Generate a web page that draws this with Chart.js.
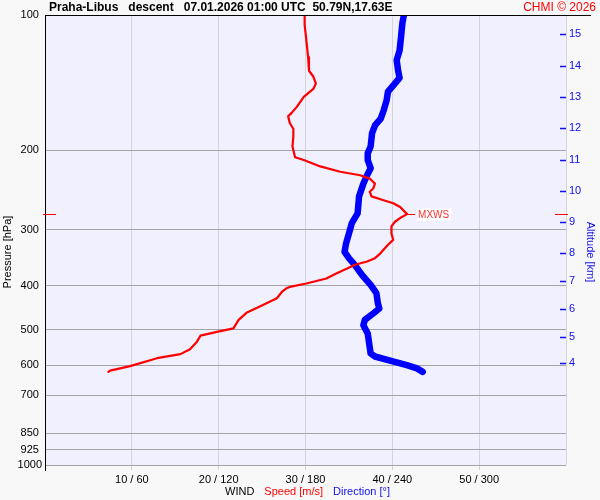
<!DOCTYPE html>
<html>
<head>
<meta charset="utf-8">
<script src="https://cdn.jsdelivr.net/npm/chart.js@4/dist/chart.umd.min.js"></script>
<style>
  html, body { margin: 0; padding: 0; background: #f8f8f8; }
  #wrap { width: 600px; height: 500px; }
</style>
</head>
<body>
<div id="wrap"><canvas id="graf_sondaz" width="600" height="500"></canvas></div>
<script>
// Radiosonda Praha-Libus - sestup, vitr (rychlost + smer) podle tlaku

// tlakove hladiny a tiky (hPa)
const pressureTicks = [100, 200, 300, 400, 500, 600, 700, 850, 925, 1000];
const speedTicks = [10, 20, 30, 40, 50, 60];

// vyska (km) a jim odpovidajici tlak pro pravou osu
const altKm = [4, 5, 6, 7, 8, 9, 10, 11, 12, 13, 14, 15];
const altPressure = [594, 520, 450, 390, 338, 288, 246, 210, 178, 152, 130, 110];

// rychlost vetru [m/s]
const speedPressure = [100, 105, 114, 124, 133, 137, 142, 146, 152, 160, 165, 168, 174, 179, 186, 196, 207, 210, 217, 223,
  227, 231, 233, 237, 243, 247, 253, 258, 262, 267, 277, 281, 288, 295, 306, 316, 324, 339, 347, 353,
  359, 366, 375, 385, 395, 402, 405, 412, 426, 441, 459, 476, 497, 506, 516, 532, 553, 567, 579, 603, 617, 621];
const speedValues = [29.9, 29.9, 30.1, 30.3, 30.4, 30.9, 31.2, 30.9, 29.8, 29.0, 28.4, 28.0, 28.2, 28.6, 28.6, 28.5, 28.8, 29.8, 31.7, 34.0,
  36.3, 37.4, 37.6, 38.0, 37.8, 37.4, 37.6, 39.0, 40.1, 40.9, 41.7, 41.1, 40.3, 39.9, 39.9, 40.1, 39.5, 38.6, 38.0, 37.1,
  35.7, 34.8, 33.6, 32.4, 30.1, 28.2, 27.8, 27.3, 26.7, 25.1, 23.2, 22.3, 21.7, 19.8, 17.9, 17.5, 16.7, 15.6, 12.9, 9.8, 7.5, 7.3];

// smer vetru [deg]
const dirPressure = [100, 104, 112, 120, 126, 133, 138, 143, 148, 155, 163, 170, 176, 183, 196, 203, 210, 219, 229, 237,
  253, 276, 290, 306, 322, 336, 347, 359, 378, 398, 415, 437, 449, 460, 476, 489, 510, 537, 565, 574, 589, 600, 610, 621];
const dirValues = [248, 247, 246, 245, 243, 244, 245, 241, 237, 236, 234, 232, 228, 226, 225, 223, 223, 225, 222, 220,
  217, 216, 212, 210, 208, 207, 210, 214, 219, 225, 229, 230, 231, 227, 221, 220, 223, 224, 225, 228, 241, 250, 257, 261];

// maximalni vitr
const maxWindPressure = 277;
const maxWindSpeed = 41.7;

const FONT = '"Liberation Sans", Arial, sans-serif';
const BLUE = '#1010f0';
const RED = '#ff0000';

const plugin_pozadi = {
    id: 'pozadi',
    beforeDraw(chart) {
        const c = chart.ctx, a = chart.chartArea;
        c.save();
        c.fillStyle = '#f8f8f8';
        c.fillRect(0, 0, chart.width, chart.height);
        c.fillStyle = '#f0f0ff';
        c.fillRect(a.left, a.top, a.right - a.left, a.bottom - a.top);
        c.restore();
    },
    afterDraw(chart) {
        const c = chart.ctx, a = chart.chartArea;
        const x = chart.scales.x, y = chart.scales.y, yAlt = chart.scales.yAlt;
        c.save();

        // horni cara a leva osa
        c.strokeStyle = '#000';
        c.lineWidth = 1;
        c.beginPath();
        c.moveTo(a.left, a.top + 0.5); c.lineTo(591, a.top + 0.5);
        c.moveTo(a.left + 0.5, a.top); c.lineTo(a.left + 0.5, a.bottom + 6);
        c.stroke();

        // titulek
        c.textBaseline = 'middle';
        c.textAlign = 'left';
        c.fillStyle = '#000';
        c.font = 'bold 12px ' + FONT;
        c.fillText('Praha-Libus   descent   07.01.2026 01:00 UTC  50.79N,17.63E', 49, 7.5);
        c.textAlign = 'right';
        c.fillStyle = RED;
        c.font = '12px ' + FONT;
        c.fillText('CHMI \u00a9 2026', 596, 7.5);

        // popisky os
        c.font = '11px ' + FONT;
        c.fillStyle = '#000';
        c.textAlign = 'center';
        c.save();
        c.translate(8, 252);
        c.rotate(-Math.PI / 2);
        c.fillText('Pressure [hPa]', 0, 0);
        c.restore();
        c.save();
        c.translate(590, 252);
        c.rotate(Math.PI / 2);
        c.fillStyle = BLUE;
        c.fillText('Altitude [km]', 0, 0);
        c.restore();

        // spodni legenda WIND
        c.textAlign = 'left';
        let px = 225;
        const casti = [['WIND', '#000'], ['Speed [m/s]', RED], ['Direction [\u00b0]', BLUE]];
        casti.forEach(function(p) {
            c.fillStyle = p[1];
            c.fillText(p[0], px, 491.5);
            px += c.measureText(p[0]).width + 10;
        });

        // ryski vysky (dovnitr grafu)
        c.strokeStyle = BLUE;
        c.lineWidth = 1.5;
        c.beginPath();
        altPressure.forEach(function(p) {
            const py = Math.round(yAlt.getPixelForValue(p)) + 0.5;
            c.moveTo(a.right - 6, py); c.lineTo(a.right, py);
        });
        c.stroke();

        // MXWS znacky
        const my = Math.round(y.getPixelForValue(maxWindPressure)) + 0.5;
        const mx = x.getPixelForValue(maxWindSpeed);
        c.strokeStyle = RED;
        c.lineWidth = 1;
        c.beginPath();
        c.moveTo(43, my); c.lineTo(56, my);
        c.moveTo(555, my); c.lineTo(568, my);
        c.moveTo(mx, my); c.lineTo(mx + 8, my);
        c.stroke();
        c.font = '10px ' + FONT;
        const tw = c.measureText('MXWS').width;
        c.fillStyle = '#ffffff';
        c.fillRect(mx + 10, my - 6, tw + 3, 12);
        c.fillStyle = '#ff3030';
        c.textBaseline = 'middle';
        c.fillText('MXWS', mx + 11, my + 0.5);

        c.restore();
    }
};

new Chart(document.getElementById('graf_sondaz'), {
    type: 'scatter',
    data: {
        datasets: [{
            label: 'Speed',
            data: speedPressure.map(function(p, i) { return { x: speedValues[i], y: p }; }),
            xAxisID: 'x',
            yAxisID: 'y',
            showLine: true,
            borderColor: RED,
            borderWidth: 2.2,
            pointRadius: 0,
            borderJoinStyle: 'round',
            borderCapStyle: 'round',
            tension: 0
        }, {
            label: 'Direction',
            data: dirPressure.map(function(p, i) { return { x: dirValues[i], y: p }; }),
            xAxisID: 'xDir',
            yAxisID: 'y',
            showLine: true,
            borderColor: '#0000ff',
            borderWidth: 6.5,
            pointRadius: 0,
            borderJoinStyle: 'round',
            borderCapStyle: 'round',
            tension: 0
        }]
    },
    options: {
        responsive: false,
        animation: false,
        layout: { padding: { top: 15, left: 0, right: 0, bottom: 0 } },
        plugins: {
            legend: { display: false },
            title: { display: false },
            tooltip: { enabled: false }
        },
        scales: {
            x: {
                type: 'linear',
                position: 'bottom',
                min: 0,
                max: 60,
                afterBuildTicks: function(s) { s.ticks = [{ value: 0 }].concat(speedTicks.map(function(v) { return { value: v }; })); },
                afterFit: function(s) { s.height = 35; },
                border: { display: false },
                grid: {
                    color: function(ctx) { return ctx.tick && ctx.tick.value === 0 ? 'rgba(0,0,0,0)' : '#d4d4dc'; },
                    tickColor: function(ctx) { return ctx.tick && (ctx.tick.value === 0 || ctx.tick.value === 60) ? 'rgba(0,0,0,0)' : '#d4d4dc'; },
                    tickLength: 5,
                    lineWidth: 1
                },
                ticks: {
                    padding: 3,
                    color: '#000',
                    font: { family: FONT, size: 11 },
                    maxRotation: 0,
                    autoSkip: false,
                    callback: function(v) { return (v === 0 || v === 60) ? '' : v + ' / ' + (v * 6); }
                }
            },
            xDir: {
                type: 'linear',
                axis: 'x',
                display: false,
                min: 0,
                max: 360
            },
            y: {
                type: 'logarithmic',
                position: 'left',
                reverse: true,
                min: 100,
                max: 1000,
                afterBuildTicks: function(s) { s.ticks = pressureTicks.map(function(v) { return { value: v }; }); },
                afterFit: function(s) { s.width = 45; },
                border: { display: false },
                grid: { color: '#a4a4a4', drawTicks: false, lineWidth: 1 },
                ticks: {
                    padding: 3,
                    crossAlign: 'center',
                    color: '#000',
                    font: { family: FONT, size: 11 },
                    autoSkip: false,
                    callback: function(v) { return String(v); }
                }
            },
            yAlt: {
                type: 'logarithmic',
                position: 'right',
                reverse: true,
                min: 100,
                max: 1000,
                afterBuildTicks: function(s) { s.ticks = altPressure.map(function(v) { return { value: v }; }); },
                afterFit: function(s) { s.width = 34; },
                border: { display: false },
                grid: { display: false, drawTicks: false },
                ticks: {
                    padding: 3,
                    color: BLUE,
                    font: { family: FONT, size: 11 },
                    autoSkip: false,
                    callback: function(v, i) { return String(altKm[i]); }
                }
            }
        }
    },
    plugins: [plugin_pozadi]
});
</script>
</body>
</html>
